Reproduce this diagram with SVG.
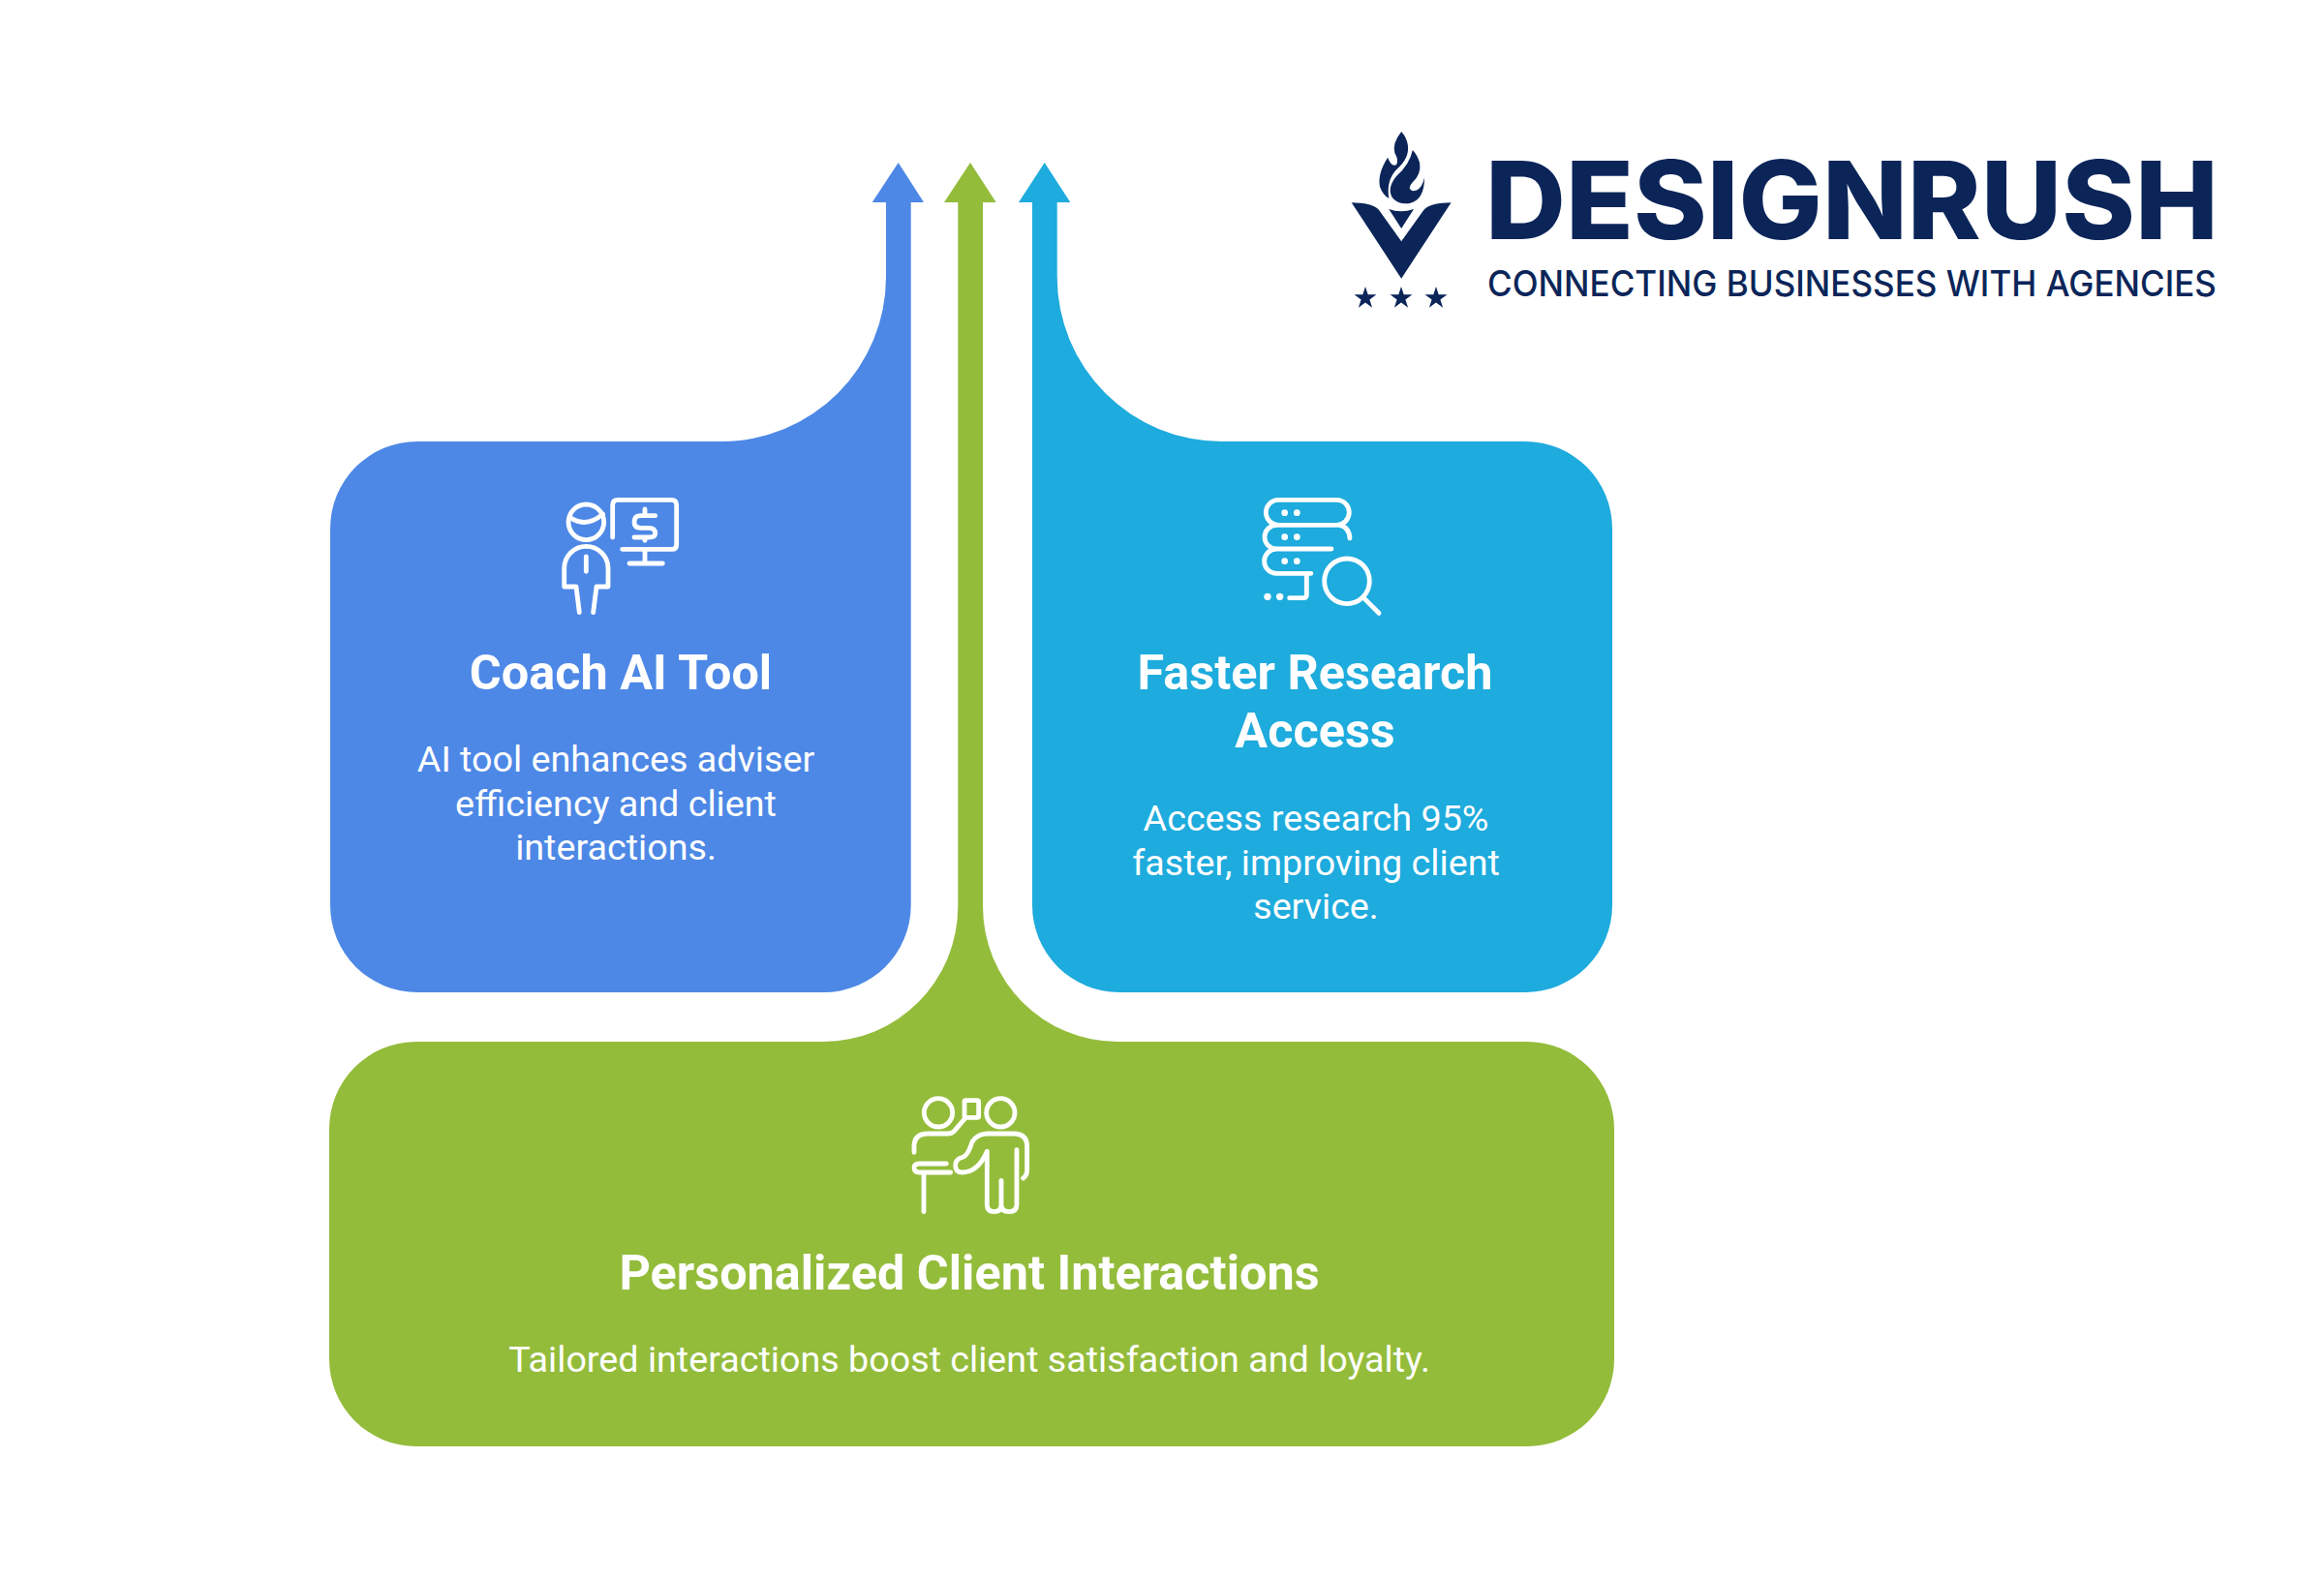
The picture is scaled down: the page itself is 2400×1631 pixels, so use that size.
<svg xmlns="http://www.w3.org/2000/svg" width="2400" height="1631" viewBox="0 0 2400 1631">
<style>
.t{font-family:Roboto,"Liberation Sans",sans-serif;font-weight:700;font-size:50.4px;fill:#fff;text-anchor:middle}
.b{font-family:Roboto,"Liberation Sans",sans-serif;font-weight:400;font-size:37.7px;fill:#fff;text-anchor:middle}
.i{fill:none;stroke:#fff;stroke-width:14.500;stroke-linecap:round;stroke-linejoin:round}
.d{fill:#fff;stroke:none}
.l{fill:#0B2559}
</style>
<defs><polygon id="star" points="0,-12 2.700,-3.700 11.400,-3.700 4.400,1.400 7.100,9.700 0,4.600 -7.100,9.700 -4.400,1.400 -11.400,-3.700 -2.700,-3.700"/></defs>
<rect width="2400" height="1631" fill="#fff"/>
<g id="connectors">
<path id="arrow-green" fill="#94BC3B" d="M1002 168L1028.700 209H1015V936H989.300V209H975Z"/>
</g>
<g id="node-coach">
<path fill="#4D88E6" d="M927.700 168L954 209H940.700V935A90 90 0 0 1 850 1025H431A90 90 0 0 1 341 935V546A90 90 0 0 1 431 456H745A170 170 0 0 0 915 286V209H900.700Z"/>
<g class="i" transform="translate(560 501) scale(.3333)">
<circle cx="136" cy="115" r="55"/><path d="M85 100Q135 135 188 90"/>
<path d="M115 395L105 315H68V258A68 68 0 0 1 204 258V315H168L158 395"/><path d="M136 222V268"/>
<path d="M218 162V62Q218 46 234 46H400Q416 46 416 62V185Q416 199 402 199H248"/><path d="M318 199V243M270 243H373"/>
<path d="M350 95H305Q285 95 285 115Q285 133 305 133H330Q350 133 350 150Q350 162 330 162H285M318 75V95M318 162V172"/>
</g>
<text class="t" x="641" y="712">Coach AI Tool</text>
<text class="b" x="636" y="797">AI tool enhances adviser</text>
<text class="b" x="636" y="842.500">efficiency and client</text>
<text class="b" x="636" y="888">interactions.</text>
</g>
<g id="node-research">
<path fill="#1EABDD" d="M1078.700 168L1105.300 209H1091.700V286A170 170 0 0 0 1262 456H1575A90 90 0 0 1 1665 546V935A90 90 0 0 1 1575 1025H1156A90 90 0 0 1 1066 935V209H1052Z"/>
<g class="i" transform="translate(1280 501) scale(.3333)">
<rect x="82" y="46" width="258" height="78" rx="39"/>
<path d="M115 124A37 37 0 0 0 115 198H285M310 124Q340 130 342 165M115 198A38 38 0 0 0 115 274H222M208 274V340Q208 350 198 350H155"/>
<circle cx="333" cy="298" r="70"/><path d="M385 350L432 397"/>
<g class="d"><circle cx="140" cy="86" r="10"/><circle cx="178" cy="86" r="10"/><circle cx="140" cy="161" r="10"/><circle cx="178" cy="161" r="10"/><circle cx="140" cy="236" r="10"/><circle cx="178" cy="236" r="10"/><circle cx="87" cy="346" r="11"/><circle cx="125" cy="346" r="11"/></g>
</g>
<text class="t" x="1358" y="712">Faster Research</text>
<text class="t" x="1358" y="772">Access</text>
<text class="b" x="1359" y="858">Access research 95%</text>
<text class="b" x="1359" y="903.500">faster, improving client</text>
<text class="b" x="1359" y="949">service.</text>
</g>
<g id="node-personalized">
<path fill="#94BC3B" d="M989.300 936A139 140 0 0 1 850 1076H430A90 90 0 0 0 340 1166V1404A90 90 0 0 0 430 1494H1577A90 90 0 0 0 1667 1404V1166A90 90 0 0 0 1577 1076H1154A139 140 0 0 1 1015 936Z"/>
<g class="i" transform="translate(920 1121) scale(.3333)">
<circle cx="147" cy="85" r="44"/><circle cx="340" cy="85" r="44"/><rect x="228" y="47" width="44" height="53" rx="4"/>
<path d="M72 208V190Q72 150 115 150H175Q190 150 198 140L228 105"/>
<path d="M185 270H90Q72 270 72 256Q72 243 88 243H172M102 270V392"/>
<path d="M410 288Q422 280 422 262V190Q422 150 380 150H300Q268 150 252 175Q240 215 225 222Q200 228 200 248Q200 270 222 270Q270 270 298 205V370Q298 392 320 392Q342 392 342 370V295V370Q342 392 366 392Q390 392 390 370V200"/>
</g>
<text class="t" x="1001" y="1332">Personalized Client Interactions</text>
<text class="b" x="1001" y="1417">Tailored interactions boost client satisfaction and loyalty.</text>
</g>
<g id="logo">
<g class="l" transform="translate(1370 120) scale(.6124 .3333)">
<path d="M126 48Q110 85 115 115Q122 135 118 150Q110 160 103 128Q85 180 90 220Q95 245 105 255Q100 200 118 165Q140 130 137 90Q135 65 126 48Z"/>
<path d="M145 105Q140 150 118 185Q100 225 112 255Q122 275 140 270Q165 260 165 190Q160 232 145 232Q135 225 145 205Q160 180 157 145Q153 120 145 105Z"/>
<path d="M42 268Q75 268 88 290L126 388L164 290Q177 268 210 268L126 503Z"/>
<path d="M105 288Q125 302 147 288L126 348Z"/>
</g>
<g class="l">
<use href="#star" x="1410" y="308"/><use href="#star" x="1447" y="308"/><use href="#star" x="1483" y="308"/>
</g>
<text class="l" x="1534" y="246.500" font-family="Inter,'Liberation Sans',sans-serif" font-weight="800" font-size="112" textLength="757" lengthAdjust="spacingAndGlyphs">DESIGNRUSH</text>
<text class="l" x="1536" y="306" font-family="Inter,'Liberation Sans',sans-serif" font-weight="500" font-size="37" textLength="753" lengthAdjust="spacingAndGlyphs">CONNECTING BUSINESSES WITH AGENCIES</text>
</g>
</svg>
